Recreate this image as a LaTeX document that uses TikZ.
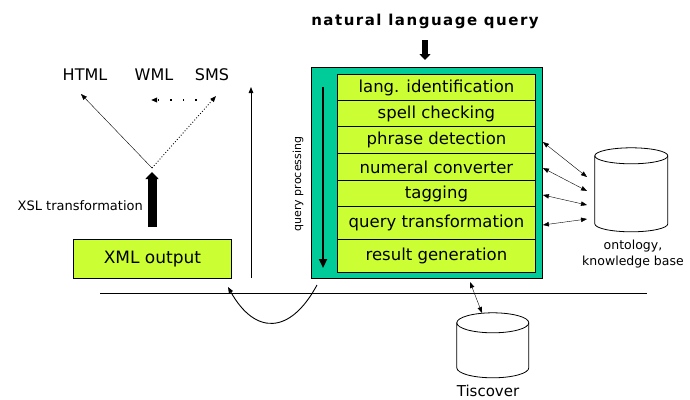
\documentclass[tikz,border=0pt]{standalone}
\usepackage{fontspec}
\setmainfont{DejaVu Sans}
\newfontfamily\titlefont[LetterSpace=10]{DejaVu Sans}
\usetikzlibrary{arrows.meta}
\definecolor{teal1}{RGB}{0,204,153}
\definecolor{lime1}{RGB}{204,255,51}
\tikzset{
  tip/.style={-{Triangle[length=6pt,width=4.5pt]}},
  dtip/.style={{Triangle[length=6pt,width=4.5pt]}-{Triangle[length=6pt,width=4.5pt]}},
  row/.style={draw, line width=0.9pt, fill=lime1, minimum width=198pt, inner sep=0pt, anchor=north west, font=\fontsize{16.5}{18}\selectfont},
  lbl/.style={inner sep=0pt, font=\fontsize{16}{18}\selectfont},
  small/.style={inner sep=0pt, font=\fontsize{11}{13}\selectfont},
  cyl/.style={draw, line width=0.8pt, fill=white},
}
\begin{document}
\begin{tikzpicture}[x=1pt,y=-1pt]
\useasboundingbox (0,0) rectangle (690,399);
% title
\node[inner sep=0pt, font=\titlefont\bfseries\fontsize{15}{17}\selectfont] (title) at (425,21) {natural language query};
% main box
\node[draw, line width=0.9pt, fill=teal1, minimum width=231pt, minimum height=211pt, anchor=north west, inner sep=0pt] (qp) at (311,67) {};
\node[row, minimum height=26pt] (r1) at (337,74) {lang. identification};
\node[row, minimum height=26pt] (r2) at (337,100) {spell checking};
\node[row, minimum height=27pt] (r3) at (337,126) {phrase detection};
\node[row, minimum height=27pt] (r4) at (337,153) {numeral converter};
\node[row, minimum height=26pt] (r5) at (337,180) {tagging};
\node[row, minimum height=33pt] (r6) at (337,206) {query transformation};
\node[row, minimum height=33pt] (r7) at (337,239) {result generation};
% title arrow
\coordinate (ta) at (425,40);
\coordinate (tb) at (425,60);
\draw[line width=6pt, -{Triangle[length=6pt,width=11pt]}] (ta) -- (tb);
% query processing arrow
\coordinate (qa) at (323,87);
\coordinate (qb) at (323,268);
\draw[line width=2.2pt, -{Triangle[length=9pt,width=8pt]}] (qa) -- (qb);
\node[small, rotate=90] (qpl) at (298,184) {query processing};
% left part
\node[draw, line width=0.9pt, fill=lime1, minimum width=158pt, minimum height=39pt, inner sep=0pt, anchor=north west, font=\fontsize{17}{19}\selectfont] (xml) at (73,239) {XML output};
\coordinate (xa) at (152,227);
\coordinate (xb) at (152,172);
\draw[line width=9pt, -{Triangle[length=7pt,width=13pt]}] (xa) -- (xb);
\node[inner sep=0pt, anchor=east, font=\fontsize{13}{15}\selectfont] (xsl) at (143,206) {XSL transformation};
\coordinate (split) at (152,168);
\node[lbl] (html) at (85,75) {HTML};
\node[lbl] (wml) at (154,75) {WML};
\node[lbl] (sms) at (212,75) {SMS};
\coordinate (htmlp) at (81,94);
\coordinate (wmlp) at (151,100);
\coordinate (wmls) at (197,100);
\coordinate (smsp) at (216,96);
\draw[tip] (split) -- (htmlp);
\draw[tip, dotted, line width=0.9pt] (split) -- (smsp);
\draw[tip, line width=1.6pt, dash pattern=on 1.6pt off 11pt] (wmls) -- (wmlp);
% up arrow
\coordinate (ua) at (251,278);
\coordinate (ub) at (251,87);
\draw[line width=0.9pt, tip] (ua) -- (ub);
% horizontal bus
\coordinate (busl) at (100,293);
\coordinate (busr) at (647,293);
\draw[line width=0.9pt] (busl) -- (busr);
% curved arrow
\coordinate (ca) at (317,285);
\coordinate (cb) at (228,287);
\draw[line width=0.9pt, tip] (ca) .. controls (290,335) and (255,335) .. (cb);
% ontology cylinder
\node[minimum width=73pt, minimum height=84pt, inner sep=0pt] (onto) at (631.5,190) {};
\draw[cyl] (onto.north west) ++(0,8) -- ++(0,68) arc[start angle=180, end angle=360, x radius=36.5pt, y radius=8pt] -- ++(0,-68) arc[start angle=0, end angle=180, x radius=36.5pt, y radius=8pt];
\draw[cyl, fill=none] ([yshift=-8pt]onto.north west) arc[start angle=180, end angle=360, x radius=36.5pt, y radius=8pt];
\node[inner sep=0pt, align=center, font=\fontsize{12.5}{15.5}\selectfont] (ontol) at (633,254) {ontology,\\knowledge base};
\coordinate (o1) at (587,177);
\coordinate (o2) at (587,191);
\coordinate (o3) at (587,205);
\coordinate (o4) at (587,219);
\draw[dtip] (qp.east |- 0,142) -- (o1);
\draw[dtip] (qp.east |- 0,168) -- (o2);
\draw[dtip] (qp.east |- 0,195) -- (o3);
\draw[dtip] (qp.east |- 0,225) -- (o4);
% Tiscover cylinder
\node[minimum width=72pt, minimum height=65pt, inner sep=0pt] (tis) at (493,345.5) {};
\draw[cyl] (tis.north west) ++(0,10) -- ++(0,45) arc[start angle=180, end angle=360, x radius=36pt, y radius=10pt] -- ++(0,-45) arc[start angle=0, end angle=180, x radius=36pt, y radius=10pt];
\draw[cyl, fill=none] ([yshift=-10pt]tis.north west) arc[start angle=180, end angle=360, x radius=36pt, y radius=10pt];
\node[inner sep=0pt, font=\fontsize{15}{17}\selectfont] (tisl) at (488,391) {Tiscover};
\coordinate (t1) at (470,282);
\coordinate (t2) at (482,313);
\draw[dtip] (t1) -- (t2);
\end{tikzpicture}
\end{document}
